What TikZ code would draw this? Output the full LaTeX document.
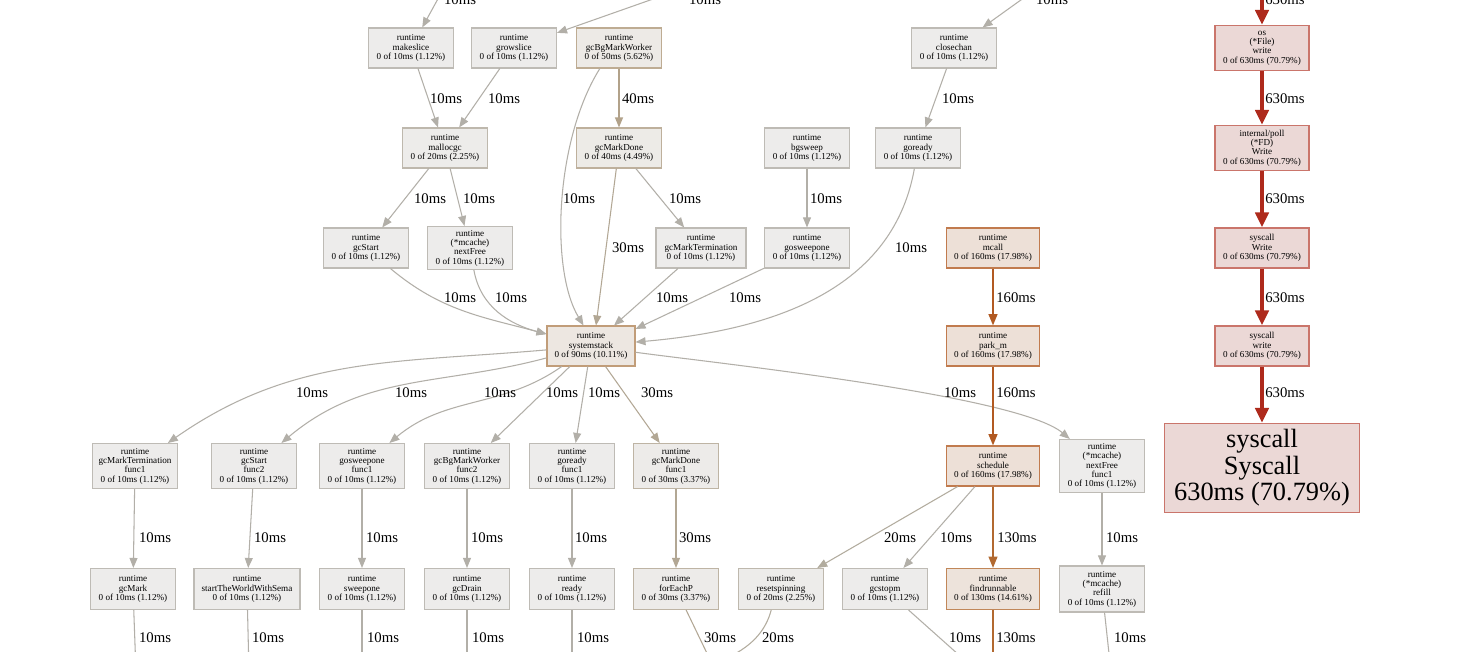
\documentclass[tikz,border=0pt]{standalone}
\usepackage{fontspec}
\setmainfont{Liberation Serif}
\usetikzlibrary{arrows.meta}

% border/edge (c..) and fill (f..) colours by weight
\definecolor{c10}{HTML}{B2AFA8}
\definecolor{f10}{HTML}{EDECEB}
\definecolor{c20}{HTML}{B2AC9E}
\definecolor{f20}{HTML}{EDECEA}
\definecolor{c30}{HTML}{B2A794}
\definecolor{f30}{HTML}{EDEBE9}
\definecolor{c40}{HTML}{B2A28A}
\definecolor{f40}{HTML}{EDEBE7}
\definecolor{c50}{HTML}{B29D80}
\definecolor{f50}{HTML}{EDEAE6}
\definecolor{c90}{HTML}{B28558}
\definecolor{f90}{HTML}{EDE7E1}
\definecolor{c130}{HTML}{B26930}
\definecolor{f130}{HTML}{EDE3DB}
\definecolor{c160}{HTML}{B25A22}
\definecolor{f160}{HTML}{EDE0D7}
\definecolor{c630}{HTML}{AE2A1C}
\definecolor{f630}{HTML}{EBD8D6}

\begin{document}
\begin{tikzpicture}[
  x=0.02cm, y=0.02cm,
  fn/.style={rectangle, draw=c10!85, fill=f10, line width=0.6pt, inner sep=1pt,
    minimum width=1.7cm, minimum height=0.8cm, align=center,
    font=\fontsize{5.2}{5.3}\selectfont},
  warm/.style={fn, draw=c160!80, fill=f160, minimum width=1.86cm},
  hot/.style={fn, draw=c630!65, fill=f630, line width=0.8pt, minimum width=1.88cm, minimum height=0.9cm},
  ms/.style={font=\fontsize{8.4}{9}\selectfont, inner sep=0pt},
  e10/.style={draw=c10, line width=0.6pt, -{Triangle[length=5.7pt, width=4.5pt]}},
  e20/.style={e10, draw=c20},
  e30/.style={e10, draw=c30},
  e40/.style={e10, draw=c40, line width=0.75pt},
  e130/.style={draw=c130, line width=1pt, -{Triangle[length=6.5pt, width=5pt]}},
  e160/.style={e130, draw=c160, line width=1.15pt},
  e630/.style={draw=c630, line width=2.6pt, -{Triangle[length=8.5pt, width=7.5pt]}}
  ]
  \useasboundingbox (0,0) rectangle (1482,-652);
  \fill[white] (0,0) rectangle (1482,-652);
  \clip (0,0) rectangle (1482,-652);

  % Row 1
  \node[fn] (makeslice) at (411,-48) {runtime\\makeslice\\0 of 10ms (1.12\%)};
  \node[fn] (growslice) at (514,-48) {runtime\\growslice\\0 of 10ms (1.12\%)};
  \node[fn, draw=c50!85, fill=f50] (gcbg) at (619,-48) {runtime\\gcBgMarkWorker\\0 of 50ms (5.62\%)};
  \node[fn] (closechan) at (954,-48) {runtime\\closechan\\0 of 10ms (1.12\%)};
  \node[hot] (oswrite) at (1262,-48) {os\\(*File)\\write\\0 of 630ms (70.79\%)};

  % Row 2
  \node[fn, draw=c20!85, fill=f20] (mallocgc) at (445,-148) {runtime\\mallocgc\\0 of 20ms (2.25\%)};
  \node[fn, draw=c40!85, fill=f40] (gcmarkdone) at (619,-148) {runtime\\gcMarkDone\\0 of 40ms (4.49\%)};
  \node[fn] (bgsweep) at (807,-148) {runtime\\bgsweep\\0 of 10ms (1.12\%)};
  \node[fn] (goready) at (918,-148) {runtime\\goready\\0 of 10ms (1.12\%)};
  \node[hot] (pollwrite) at (1262,-148) {internal/poll\\(*FD)\\Write\\0 of 630ms (70.79\%)};

  % Row 3
  \node[fn] (gcstart) at (366,-248) {runtime\\gcStart\\0 of 10ms (1.12\%)};
  \node[fn, minimum height=0.86cm] (nextfree) at (470,-248) {runtime\\(*mcache)\\nextFree\\0 of 10ms (1.12\%)};
  \node[fn, minimum width=1.8cm] (gcmarkterm) at (701,-248) {runtime\\gcMarkTermination\\0 of 10ms (1.12\%)};
  \node[fn] (gosweepone) at (807,-248) {runtime\\gosweepone\\0 of 10ms (1.12\%)};
  \node[warm] (mcall) at (993,-248) {runtime\\mcall\\0 of 160ms (17.98\%)};
  \node[hot, minimum height=0.8cm] (sysWrite) at (1262,-248) {syscall\\Write\\0 of 630ms (70.79\%)};

  % Row 4
  \node[fn, draw=c90!80, fill=f90, minimum width=1.76cm] (sysstack) at (591,-346) {runtime\\systemstack\\0 of 90ms (10.11\%)};
  \node[warm] (parkm) at (993,-346) {runtime\\park\_m\\0 of 160ms (17.98\%)};
  \node[hot, minimum height=0.8cm] (syswrite) at (1262,-346) {syscall\\write\\0 of 630ms (70.79\%)};

  % Row 5
  \node[fn, minimum height=0.9cm] (gcmtfunc) at (135,-466) {runtime\\gcMarkTermination\\func1\\0 of 10ms (1.12\%)};
  \node[fn, minimum height=0.9cm] (gcstartfunc) at (254,-466) {runtime\\gcStart\\func2\\0 of 10ms (1.12\%)};
  \node[fn, minimum height=0.9cm] (gosweepfunc) at (362,-466) {runtime\\gosweepone\\func1\\0 of 10ms (1.12\%)};
  \node[fn, minimum height=0.9cm] (gcbgfunc) at (467,-466) {runtime\\gcBgMarkWorker\\func2\\0 of 10ms (1.12\%)};
  \node[fn, minimum height=0.9cm] (goreadyfunc) at (572,-466) {runtime\\goready\\func1\\0 of 10ms (1.12\%)};
  \node[fn, minimum height=0.9cm, draw=c30!85, fill=f30] (gcmdfunc) at (676,-466) {runtime\\gcMarkDone\\func1\\0 of 30ms (3.37\%)};
  \node[warm] (schedule) at (993,-466) {runtime\\schedule\\0 of 160ms (17.98\%)};
  \node[fn, minimum height=1.06cm] (nextfreefunc) at (1102,-466) {runtime\\(*mcache)\\nextFree\\func1\\0 of 10ms (1.12\%)};
  \node[hot, minimum width=3.9cm, minimum height=1.78cm, font=\fontsize{15}{15.1}\selectfont] (syscall) at (1262,-468) {syscall\\Syscall\\630ms (70.79\%)};

  % Row 6
  \node[fn, minimum height=0.82cm] (gcmark) at (133,-589) {runtime\\gcMark\\0 of 10ms (1.12\%)};
  \node[fn, minimum width=2.12cm, minimum height=0.82cm] (starttw) at (247,-589) {runtime\\startTheWorldWithSema\\0 of 10ms (1.12\%)};
  \node[fn, minimum height=0.82cm] (sweepone) at (362,-589) {runtime\\sweepone\\0 of 10ms (1.12\%)};
  \node[fn, minimum height=0.82cm] (gcdrain) at (467,-589) {runtime\\gcDrain\\0 of 10ms (1.12\%)};
  \node[fn, minimum height=0.82cm] (ready) at (572,-589) {runtime\\ready\\0 of 10ms (1.12\%)};
  \node[fn, minimum height=0.82cm, draw=c30!85, fill=f30] (foreachp) at (676,-589) {runtime\\forEachP\\0 of 30ms (3.37\%)};
  \node[fn, minimum height=0.82cm, draw=c20!85, fill=f20] (resetspin) at (781,-589) {runtime\\resetspinning\\0 of 20ms (2.25\%)};
  \node[fn, minimum height=0.82cm] (gcstopm) at (885,-589) {runtime\\gcstopm\\0 of 10ms (1.12\%)};
  \node[warm, minimum height=0.82cm, draw=c130!80, fill=f130] (findrun) at (993,-589) {runtime\\findrunnable\\0 of 130ms (14.61\%)};
  \node[fn, minimum height=0.92cm] (refill) at (1102,-589) {runtime\\(*mcache)\\refill\\0 of 10ms (1.12\%)};

  % loose ends above and below the picture
  \coordinate (inmake) at (445,14);
  \coordinate (ingrow) at (690,14);
  \coordinate (inclose) at (1032,8);
  \coordinate (inos) at (1262,14);
  \coordinate (outmark) at (136,-672);
  \coordinate (outtw) at (249,-672);
  \coordinate (outsweep) at (362,-672);
  \coordinate (outdrain) at (467,-672);
  \coordinate (outready) at (572,-672);
  \coordinate (outeach) at (716,-672);
  \coordinate (outreset) at (712,-664);
  \coordinate (outstopm) at (978,-672);
  \coordinate (outfind) at (993,-672);
  \coordinate (outrefill) at (1111,-672);

  % Into row 1
  \draw[e10] (inmake) -- (makeslice) node[ms] at (460,0) {10ms};
  \draw[e10] (ingrow) -- (growslice) node[ms] at (705,0) {10ms};
  \draw[e10] (inclose) -- (closechan) node[ms] at (1052,0) {10ms};
  \draw[e630] (inos) -- (oswrite) node[ms] at (1285,0) {630ms};

  % Row 1 -> row 2
  \draw[e10] (makeslice) -- (mallocgc) node[ms] at (446,-99) {10ms};
  \draw[e10] (growslice) -- (mallocgc) node[ms] at (504,-99) {10ms};
  \draw[e40] (gcbg) -- (gcmarkdone) node[ms] at (638,-99) {40ms};
  \draw[e10] (gcbg.-133) .. controls (555,-140) and (550,-270) .. (sysstack.110) node[ms] at (579,-199) {10ms};
  \draw[e10] (closechan) -- (goready) node[ms] at (958,-99) {10ms};
  \draw[e630] (oswrite) -- (pollwrite) node[ms] at (1285,-99) {630ms};

  % Row 2 -> row 3
  \draw[e10] (mallocgc) -- (gcstart) node[ms] at (430,-199) {10ms};
  \draw[e10] (mallocgc) -- (nextfree) node[ms] at (479,-199) {10ms};
  \draw[e30] (gcmarkdone) -- ([xshift=0.1cm]sysstack.north) node[ms] at (628,-248) {30ms};
  \draw[e10] (gcmarkdone) -- (gcmarkterm) node[ms] at (685,-199) {10ms};
  \draw[e10] (bgsweep) -- (gosweepone) node[ms] at (826,-199) {10ms};
  \draw[e10] (goready) to[out=-100, in=5] (sysstack) node[ms] at (911,-248) {10ms};
  \draw[e630] (pollwrite) -- (sysWrite) node[ms] at (1285,-199) {630ms};

  % Row 3 -> systemstack
  \draw[e10] (gcstart) to[out=-40, in=165] (sysstack) node[ms] at (460,-298) {10ms};
  \draw[e10] (nextfree) to[out=-80, in=165] (sysstack) node[ms] at (511,-298) {10ms};
  \draw[e10] (gcmarkterm) -- (sysstack) node[ms] at (672,-298) {10ms};
  \draw[e10] (gosweepone) -- ([yshift=0.34cm]sysstack.east) node[ms] at (745,-298) {10ms};
  \draw[e160] (mcall) -- (parkm) node[ms] at (1016,-298) {160ms};
  \draw[e630] (sysWrite) -- (syswrite) node[ms] at (1285,-298) {630ms};

  % Row 4 -> row 5
  \draw[e10] (sysstack) to[out=185, in=35] (gcmtfunc) node[ms] at (312,-393) {10ms};
  \draw[e10] (sysstack) to[out=195, in=40] (gcstartfunc) node[ms] at (411,-393) {10ms};
  \draw[e10] (sysstack) to[out=215, in=40] (gosweepfunc) node[ms] at (500,-393) {10ms};
  \draw[e10] (sysstack) -- (gcbgfunc) node[ms] at (562,-393) {10ms};
  \draw[e10] (sysstack) -- (goreadyfunc) node[ms] at (604,-393) {10ms};
  \draw[e30] (sysstack) -- (gcmdfunc) node[ms] at (657,-393) {30ms};
  \draw[e10] (sysstack) to[out=-8, in=140, looseness=0.4] (nextfreefunc) node[ms] at (960,-393) {10ms};
  \draw[e160] (parkm) -- (schedule) node[ms] at (1016,-393) {160ms};
  \draw[e630] (syswrite) -- (syscall) node[ms] at (1285,-393) {630ms};

  % Row 5 -> row 6
  \draw[e10] (gcmtfunc) -- (gcmark) node[ms] at (155,-538) {10ms};
  \draw[e10] (gcstartfunc) -- (starttw) node[ms] at (270,-538) {10ms};
  \draw[e10] (gosweepfunc) -- (sweepone) node[ms] at (382,-538) {10ms};
  \draw[e10] (gcbgfunc) -- (gcdrain) node[ms] at (487,-538) {10ms};
  \draw[e10] (goreadyfunc) -- (ready) node[ms] at (591,-538) {10ms};
  \draw[e30] (gcmdfunc) -- (foreachp) node[ms] at (695,-538) {30ms};
  \draw[e20] (schedule) -- (resetspin) node[ms] at (900,-538) {20ms};
  \draw[e10] (schedule) -- (gcstopm) node[ms] at (956,-538) {10ms};
  \draw[e130] (schedule) -- (findrun) node[ms] at (1017,-538) {130ms};
  \draw[e10] (nextfreefunc) -- (refill) node[ms] at (1122,-538) {10ms};

  % Out of row 6
  \draw[e10] (gcmark) -- (outmark) node[ms] at (155,-638) {10ms};
  \draw[e10] (starttw) -- (outtw) node[ms] at (268,-638) {10ms};
  \draw[e10] (sweepone) -- (outsweep) node[ms] at (383,-638) {10ms};
  \draw[e10] (gcdrain) -- (outdrain) node[ms] at (488,-638) {10ms};
  \draw[e10] (ready) -- (outready) node[ms] at (593,-638) {10ms};
  \draw[e30] (foreachp) -- (outeach) node[ms] at (720,-638) {30ms};
  \draw[e20] (resetspin.-115) .. controls (766,-630) and (752,-648) .. (outreset) node[ms] at (778,-638) {20ms};
  \draw[e10] (gcstopm) -- (outstopm) node[ms] at (965,-638) {10ms};
  \draw[e130] (findrun) -- (outfind) node[ms] at (1016,-638) {130ms};
  \draw[e10] (refill) -- (outrefill) node[ms] at (1130,-638) {10ms};
\end{tikzpicture}
\end{document}
